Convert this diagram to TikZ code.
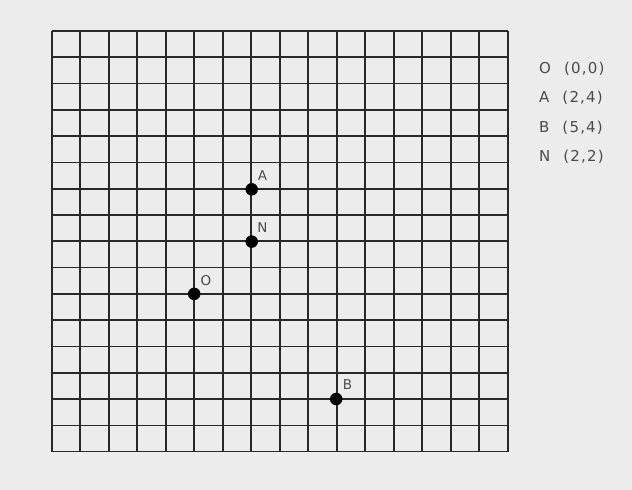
\documentclass[tikz,border=0pt]{standalone}
\usepackage{fontspec}
\setmainfont{Liberation Sans}
\newfontfamily\plotfont[LetterSpace=8]{DejaVu Sans}
\definecolor{paper}{RGB}{236,236,236}
\definecolor{ink}{RGB}{40,40,40}
\definecolor{txt}{RGB}{75,75,75}
\tikzset{
  gridline/.style={draw=ink, line width=1.7pt},
  dot/.style={circle, fill=black, inner sep=0pt, minimum size=12.5pt},
  ptlabel/.style={text=txt, font=\plotfont\fontsize{13.5}{13.5}\selectfont, inner sep=0pt},
  legend/.style={text=txt, font=\plotfont\fontsize{15}{15}\selectfont, inner sep=0pt, anchor=west}
}
\begin{document}
\begin{tikzpicture}[x=1pt,y=-1pt]
\fill[paper] (0,0) rectangle (632,490);
\useasboundingbox (0,0) rectangle (632,490);
\foreach \i in {0,...,16} {
  \draw[gridline] ({51.7+\i*28.5},31) -- ({51.7+\i*28.5},451.7);
  \draw[gridline] (51.7,{31+\i*26.29}) -- (507.7,{31+\i*26.29});
}
\node[dot] (A) at (251.7,189.3) {};
\node[dot] (N) at (251.7,241.6) {};
\node[dot] (O) at (194.2,293.9) {};
\node[dot] (B) at (336.2,399.0) {};
\node[ptlabel] (lA) at (262.5,175.5) {A};
\node[ptlabel] (lN) at (262.5,228) {N};
\node[ptlabel] (lO) at (206,281) {O};
\node[ptlabel] (lB) at (347.5,384.5) {B};
\node[legend] (gO) at (539,68.5) {O\hspace{13pt}(0,0)};
\node[legend] (gA) at (539,98) {A\hspace{13pt}(2,4)};
\node[legend] (gB) at (539,128) {B\hspace{13pt}(5,4)};
\node[legend] (gN) at (539,157) {N\hspace{13pt}(2,2)};
\end{tikzpicture}
\end{document}
